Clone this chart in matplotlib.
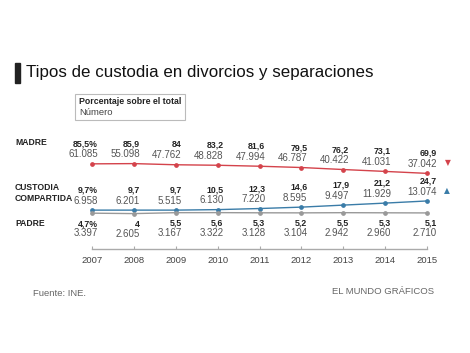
import matplotlib
matplotlib.use("Agg")
from matplotlib import pyplot as plt
from matplotlib.patches import Rectangle

plt.rcParams["font.family"]=["Liberation Sans","DejaVu Sans"]

years=[2007,2008,2009,2010,2011,2012,2013,2014,2015]
madre_pct=[85.5,85.9,84,83.2,81.6,79.5,76.2,73.1,69.9]
madre_num=["61.085","55.098","47.762","48.828","47.994","46.787","40.422","41.031","37.042"]
madre_lbl=["85,5%","85,9","84","83,2","81,6","79,5","76,2","73,1","69,9"]
comp_pct=[9.7,9.7,9.7,10.5,12.3,14.6,17.9,21.2,24.7]
comp_num=["6.958","6.201","5.515","6.130","7.220","8.595","9.497","11.929","13.074"]
comp_lbl=["9,7%","9,7","9,7","10,5","12,3","14,6","17,9","21,2","24,7"]
padre_pct=[4.7,4,5.5,5.6,5.3,5.2,5.5,5.3,5.1]
padre_num=["3.397","2.605","3.167","3.322","3.128","3.104","2.942","2.960","2.710"]
padre_lbl=["4,7%","4","5,5","5,6","5,3","5,2","5,5","5,3","5,1"]

red="#d4434b"
blue="#3a7ca8"
grey="#999999"
W,H=470,353

fig=plt.figure(figsize=(4.7,3.53),dpi=100)
def px(x,y):
    return x/W,1-y/H

# title
fig.patches.append(Rectangle(px(15,83),5/W,20/H,transform=fig.transFigure,color="#222222"))
fig.text(*px(26,73),"Tipos de custodia en divorcios y separaciones",fontsize=12.2,va="center",ha="left",color="#111111")

# legend box
fig.patches.append(Rectangle(px(75,120),110/W,26/H,transform=fig.transFigure,fill=False,edgecolor="#bbbbbb",lw=0.8))
fig.text(*px(79,101),"Porcentaje sobre el total",fontsize=6.3,weight="bold",va="center",color="#222222")
fig.text(*px(79,112),"Número",fontsize=6.8,va="center",color="#444444")

# row labels
for (x,y,s) in [(15,143,"MADRE"),(15,188,"CUSTODIA"),(15,199,"COMPARTIDA"),(15,223,"PADRE")]:
    fig.text(*px(x,y),s,fontsize=6.2,weight="bold",va="center",color="#222222")

ax=fig.add_axes([92/W,(H-249)/H,335/W,94/H])
ax.set_xlim(2007,2015)
ax.set_ylim(-54,100)
for s in ["top","left","right"]:
    ax.spines[s].set_visible(False)
ax.spines["bottom"].set_color("#aaaaaa")
ax.spines["bottom"].set_linewidth(1)
ax.set_yticks([])
ax.set_xticks(years)
ax.tick_params(axis="x",direction="in",length=2.5,color="#aaaaaa",labelsize=6.8,labelcolor="#444444",pad=5)

for vals,col in [(madre_pct,red),(comp_pct,blue),(padre_pct,grey)]:
    ax.plot(years,vals,color=col,lw=1,marker="o",ms=2.4,clip_on=False,zorder=3)

def labels(vals,lbls,nums,above):
    for i,(yr,v) in enumerate(zip(years,vals)):
        dx=7 if yr==2015 else 4.3
        if above:
            d1,d2=14.4,6.8
        else:
            d1,d2=-7.6,-14.4
        ax.annotate(lbls[i],(yr,v),xytext=(dx,d1),textcoords="offset points",ha="right",va="center",
                    fontsize=6.3,weight="bold",color="#222222",annotation_clip=False)
        ax.annotate(nums[i],(yr,v),xytext=(dx,d2),textcoords="offset points",ha="right",va="center",
                    fontsize=7,color="#555555",annotation_clip=False)

labels(madre_pct,madre_lbl,madre_num,True)
labels(comp_pct,comp_lbl,comp_num,True)
labels(padre_pct,padre_lbl,padre_num,False)

ax.annotate("▼",(2015,madre_pct[-1]),xytext=(15,7.5),textcoords="offset points",ha="center",va="center",
            fontsize=5.5,color=red,family="DejaVu Sans",annotation_clip=False)
ax.annotate("▲",(2015,comp_pct[-1]),xytext=(14.5,7.5),textcoords="offset points",ha="center",va="center",
            fontsize=5.5,color=blue,family="DejaVu Sans",annotation_clip=False)

fig.text(*px(33,293),"Fuente: INE.",fontsize=6.8,va="center",color="#666666")
fig.text(*px(434,292),"EL MUNDO GRÁFICOS",fontsize=6.8,va="center",ha="right",color="#666666")

fig.savefig("out.png",dpi=100)
